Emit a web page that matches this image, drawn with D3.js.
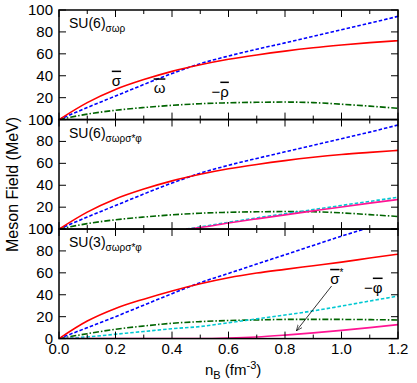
<!DOCTYPE html>
<html>
<head>
<meta charset="utf-8">
<script src="https://cdn.jsdelivr.net/npm/d3@7"></script>
<style>
  body { margin: 0; background: #fff; }
  text { font-family: "Liberation Sans", Arial, sans-serif; }
</style>
</head>
<body>
<script>
let w = 417;
let h = 383;

// baryon density grid (fm^-3)
let nB = [0, 0.1, 0.2, 0.3, 0.4, 0.5, 0.6, 0.7, 0.8, 0.9, 1.0, 1.1, 1.2];
let nBHyp = [0.45, 0.5, 0.6, 0.7, 0.8, 0.9, 1.0, 1.1, 1.2];

// panel 1: SU(6) sigma omega rho
let p1Sigma = [0, 15.5, 27.5, 36.5, 44, 50, 55, 59, 62.5, 65.5, 68, 70.2, 72];
let p1Omega = [0, 11, 21.5, 32, 42, 51, 58, 64.2, 70, 76, 82, 88, 94.2];
let p1Rho   = [0, 5, 8.5, 11, 13, 14.5, 15.3, 15.8, 16, 15.5, 14, 12.3, 10.3];

// panel 2: SU(6) with sigma* and phi
let p2Sigma = [0, 15.5, 27.5, 36.5, 44, 50, 55, 59, 62.5, 65.5, 68, 70, 71.8];
let p2Omega = [0, 11, 21.5, 32, 42, 51, 58.2, 64.5, 70.5, 76.5, 82.5, 88.5, 95];
let p2Rho   = [0, 5, 8.5, 11, 13, 14.5, 15.3, 15.8, 16, 15.8, 14.8, 13.2, 11.5];
let p2SigmaStar = [0, 1.5, 5.5, 9.3, 13, 16.6, 20.2, 23.7, 27];
let p2Phi       = [0, 2, 6.2, 10.2, 14, 17.8, 21.6, 25.3, 29];

// panel 3: SU(3) with sigma* and phi
let p3Sigma = [0, 16, 27.5, 36, 43.5, 50, 55.5, 59.8, 63.2, 66.5, 69.8, 73.5, 77];
let p3Omega = [0, 10, 20, 30.5, 41, 51, 59.5, 68, 76.5, 85, 93.5, 101.5, 109.5];
let p3Rho   = [0, 4.5, 8.5, 11.5, 14, 15.5, 16.5, 17, 17.5, 17.5, 17.5, 17.3, 17];
let p3Phi   = [0, 1.5, 4, 6.5, 9, 11, 14.5, 18, 21.5, 25.3, 29.7, 34.3, 38.8];
let p3SigmaStar = [0, 0, 0, 0, 0, 0, 0.5, 1.5, 3.2, 5.2, 7.5, 10, 12.8];

let xTicks = [0, 0.2, 0.4, 0.6, 0.8, 1.0, 1.2];
let xMinor = [0.1, 0.3, 0.5, 0.7, 0.9, 1.1];
let yTicks = [0, 20, 40, 60, 80, 100];

let colSigma = "#ff0000", colOmega = "#0000ff", colRho = "#006400",
    colPhi = "#00c8d2", colSigmaStar = "#ff1493";

let left = 59, right = 398;
let panelTops = [10, 119.5, 229];
let panelH = 109.6;

let xScale = d3.scaleLinear().domain([0, 1.2]).range([left, right]);

let svg = d3.select("body")
  .append("svg")
  .attr("width", w)
  .attr("height", h);

let panels = [
  { title: "SU(6)", sub: "σωρ", series: [
      { x: nB, y: p1Rho, c: colRho, dash: "6,2,1.5,2" },
      { x: nB, y: p1Omega, c: colOmega, dash: "3.5,2" },
      { x: nB, y: p1Sigma, c: colSigma, dash: null } ] },
  { title: "SU(6)", sub: "σωρσ*φ", series: [
      { x: nB, y: p2Rho, c: colRho, dash: "6,2,1.5,2" },
      { x: nBHyp, y: p2Phi, c: colPhi, dash: "3.5,2" },
      { x: nBHyp, y: p2SigmaStar, c: colSigmaStar, dash: null },
      { x: nB, y: p2Omega, c: colOmega, dash: "3.5,2" },
      { x: nB, y: p2Sigma, c: colSigma, dash: null } ] },
  { title: "SU(3)", sub: "σωρσ*φ", series: [
      { x: nB, y: p3Rho, c: colRho, dash: "6,2,1.5,2" },
      { x: nB, y: p3Phi, c: colPhi, dash: "3.5,2" },
      { x: nB, y: p3SigmaStar, c: colSigmaStar, dash: null },
      { x: nB, y: p3Omega, c: colOmega, dash: "3.5,2" },
      { x: nB, y: p3Sigma, c: colSigma, dash: null } ] }
];

let yScales = [];

panels.forEach((p, i) => {
  let top = panelTops[i];
  let yScale = d3.scaleLinear().domain([0, 100]).range([top + panelH, top]);
  yScales.push(yScale);

  let g = svg.append("g");

  g.append("clipPath").attr("id", "clip" + i)
    .append("rect")
    .attr("x", left).attr("y", top)
    .attr("width", right - left).attr("height", panelH);

  let line = d3.line()
    .x(d => xScale(d[0]))
    .y(d => yScale(d[1]))
    .curve(d3.curveMonotoneX);

  p.series.forEach(s => {
    g.append("path")
      .attr("clip-path", "url(#clip" + i + ")")
      .attr("d", line(s.x.map((v, k) => [v, s.y[k]])))
      .attr("fill", "none")
      .attr("stroke", s.c)
      .attr("stroke-width", 1.6)
      .attr("stroke-dasharray", s.dash);
  });

  // ticks, inward on all four sides
  let tickG = g.append("g").attr("stroke", "#000").attr("stroke-width", 1);
  xTicks.concat(xMinor).forEach(t => {
    let len = xTicks.includes(t) ? 7 : 4;
    tickG.append("line").attr("x1", xScale(t)).attr("x2", xScale(t))
      .attr("y1", top + panelH).attr("y2", top + panelH - len);
    tickG.append("line").attr("x1", xScale(t)).attr("x2", xScale(t))
      .attr("y1", top).attr("y2", top + len);
  });
  yTicks.forEach(t => {
    tickG.append("line").attr("x1", left).attr("x2", left + 7)
      .attr("y1", yScale(t)).attr("y2", yScale(t));
    tickG.append("line").attr("x1", right).attr("x2", right - 7)
      .attr("y1", yScale(t)).attr("y2", yScale(t));
  });

  g.selectAll(".ylab")
    .data(yTicks)
    .enter()
    .append("text")
    .attr("x", left - 6)
    .attr("y", d => yScale(d) + 5)
    .attr("text-anchor", "end")
    .attr("font-size", "15px")
    .text(d => d);

  // frame
  g.append("rect")
    .attr("x", left).attr("y", top)
    .attr("width", right - left).attr("height", panelH)
    .attr("fill", "none").attr("stroke", "#000").attr("stroke-width", 1.5);

  let t = g.append("text")
    .attr("x", left + 10)
    .attr("y", top + 18)
    .attr("font-size", "14px")
    .text(p.title);
  t.append("tspan")
    .attr("dy", 4)
    .attr("font-size", "10px")
    .text(p.sub);
});

// x tick labels
svg.selectAll(".xlab")
  .data(xTicks)
  .enter()
  .append("text")
  .attr("x", d => xScale(d))
  .attr("y", panelTops[2] + panelH + 15)
  .attr("text-anchor", "middle")
  .attr("font-size", "15px")
  .text(d => d.toFixed(1));

// axis titles
let xt = svg.append("text")
  .attr("x", 205)
  .attr("y", 375)
  .attr("font-size", "15px")
  .text("n");
xt.append("tspan").attr("dy", 4).attr("font-size", "11px").text("B");
xt.append("tspan").attr("dy", -4).attr("font-size", "15px").text(" (fm");
xt.append("tspan").attr("dy", -6).attr("font-size", "11px").text("-3");
xt.append("tspan").attr("dy", 6).attr("font-size", "15px").text(")");

svg.append("text")
  .attr("transform", "translate(18," + (panelTops[0] + 1.5 * panelH + 10) + ") rotate(-90)")
  .attr("text-anchor", "middle")
  .attr("font-size", "16px")
  .text("Meson Field (MeV)");

// curve labels with overbars
function barLabel(panel, n, v, pre, sym, sup) {
  let y = yScales[panel];
  let t = svg.append("text")
    .attr("x", xScale(n))
    .attr("y", y(v))
    .attr("font-size", "15px");
  if (pre) t.append("tspan").text(pre);
  t.append("tspan").style("text-decoration", "overline").text(sym);
  if (sup) t.append("tspan").attr("dy", -8).attr("font-size", "10px").text(sup);
}

barLabel(0, 0.187, 31, null, "σ");
barLabel(0, 0.335, 24, null, "ω");
barLabel(0, 0.54, 21, "−", "ρ");
barLabel(2, 0.96, 50, null, "σ", "*");
barLabel(2, 1.08, 42, "−", "φ");

// arrow from sigma* label to its curve
svg.append("defs").append("marker")
  .attr("id", "arr")
  .attr("viewBox", "0 0 10 10")
  .attr("refX", 10).attr("refY", 5)
  .attr("markerWidth", 8).attr("markerHeight", 8)
  .attr("orient", "auto")
  .append("path")
  .attr("d", "M0,1 L10,5 L0,9")
  .attr("fill", "none")
  .attr("stroke", "#000");

svg.append("line")
  .attr("x1", xScale(0.965)).attr("y1", yScales[2](48))
  .attr("x2", xScale(0.84)).attr("y2", yScales[2](7))
  .attr("stroke", "#000")
  .attr("stroke-width", 0.8)
  .attr("marker-end", "url(#arr)");
</script>
</body>
</html>
